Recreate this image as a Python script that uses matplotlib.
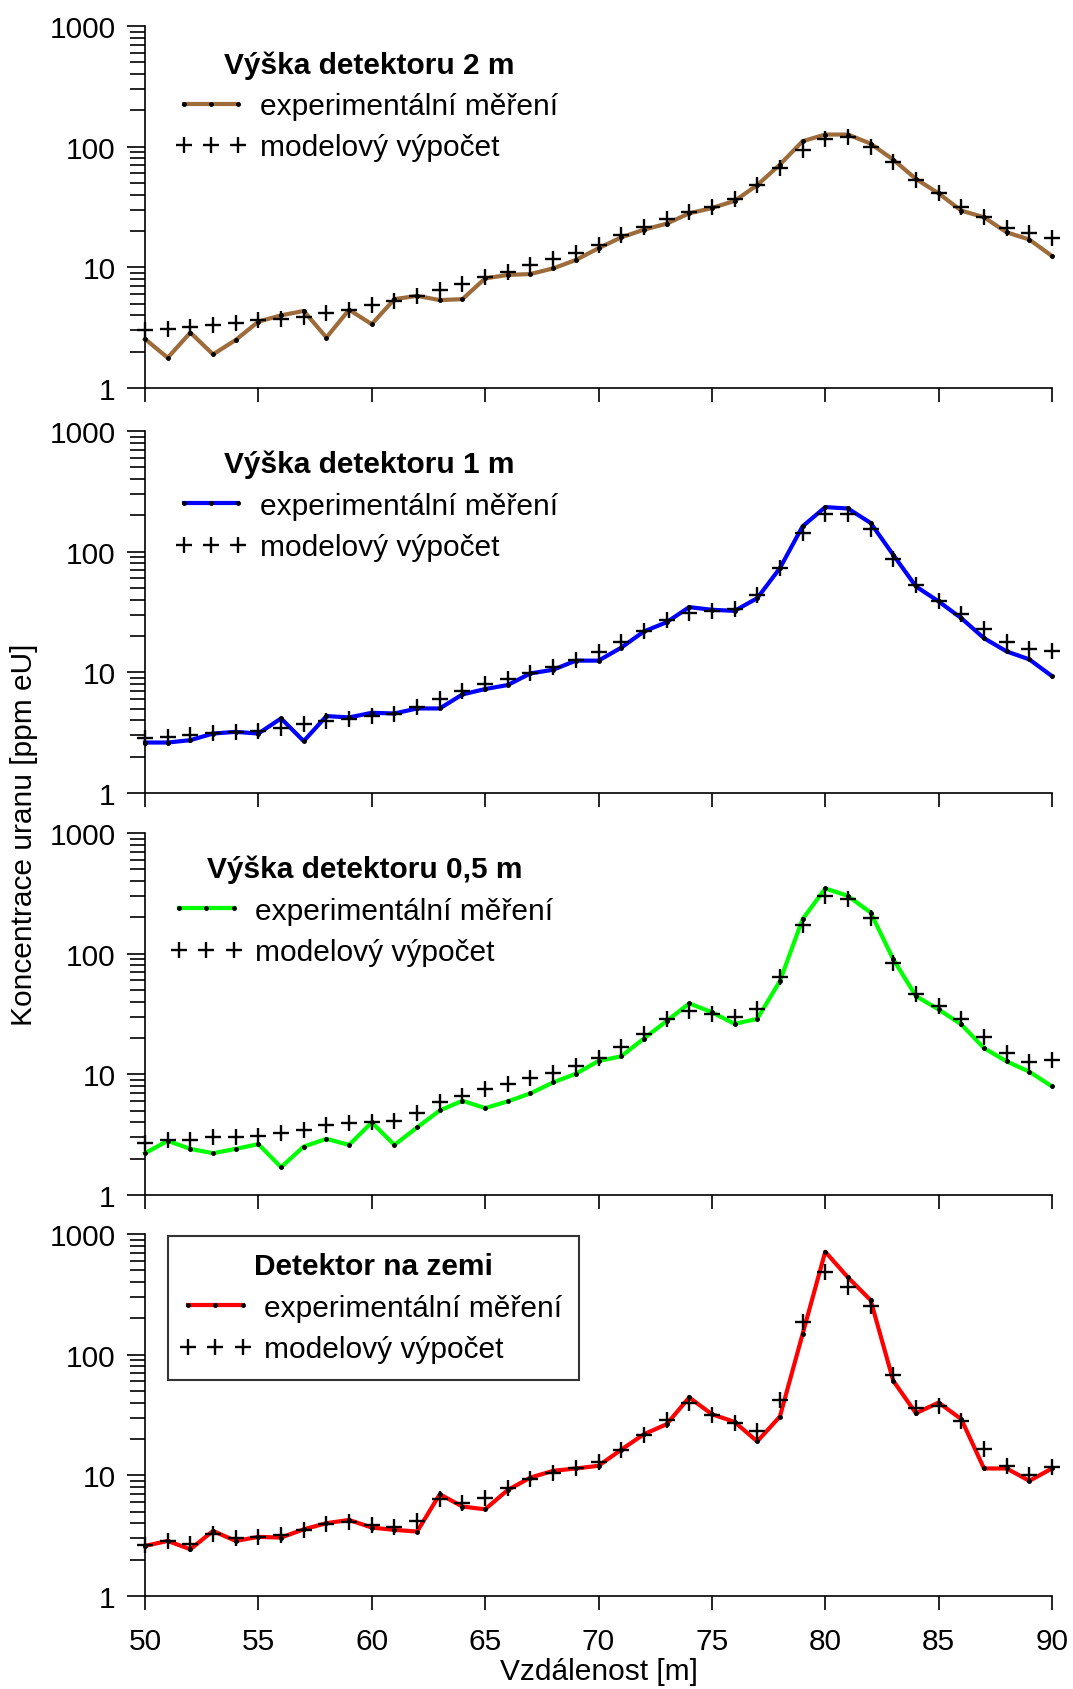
import numpy as np
import matplotlib
matplotlib.use('Agg')
import matplotlib.pyplot as plt
from matplotlib.lines import Line2D
from matplotlib.legend_handler import HandlerLine2D
from matplotlib.ticker import LogLocator, FixedLocator, NullFormatter

plt.rcParams['font.family'] = ['Liberation Sans', 'DejaVu Sans']

# Distance along the profile [m]
dist = list(range(50, 91))

# Uranium concentration [ppm eU] - measured (exp) and modelled (mod)
exp_2m = [2.55, 1.78, 2.88, 1.9, 2.5, 3.55, 4.0, 4.35, 2.62, 4.45, 3.38, 5.45, 5.8, 5.35,
          5.45, 8.1, 8.65, 8.8, 9.8, 11.5, 14.4, 17.7, 20.5, 23.0, 28.0, 31.0, 35.5, 48.0,
          71.0, 111.0, 126.0, 126.0, 106.0, 78.0, 54.0, 41.0, 29.5, 26.0, 19.5, 17.0, 12.4]
mod_2m = [3.0, 3.1, 3.2, 3.3, 3.45, 3.65, 3.75, 3.9, 4.2, 4.45, 4.85, 5.25, 5.8, 6.5, 7.3,
          8.3, 9.15, 10.4, 11.7, 13.2, 15.2, 18.4, 21.6, 25.3, 28.7, 31.6, 37.0, 47.8, 66.5,
          94.0, 116.0, 120.0, 100.0, 74.0, 53.0, 41.0, 31.6, 26.0, 21.2, 19.3, 17.6]

exp_1m = [2.62, 2.62, 2.74, 3.11, 3.21, 3.11, 4.15, 2.69, 4.34, 4.23, 4.62, 4.56, 5.02,
          5.02, 6.56, 7.27, 7.85, 9.8, 10.5, 12.5, 12.5, 16.0, 21.8, 26.0, 34.7, 33.0, 32.3,
          41.2, 73.0, 162.0, 234.0, 228.0, 173.0, 94.0, 51.5, 38.7, 28.1, 19.2, 14.9, 12.8, 9.3]
mod_1m = [2.83, 2.92, 3.01, 3.17, 3.2, 3.27, 3.47, 3.7, 3.94, 4.1, 4.34, 4.5, 5.18, 6.0,
          7.04, 8.0, 8.8, 9.8, 11.1, 12.7, 14.8, 18.0, 21.8, 27.2, 31.0, 32.3, 33.6, 43.4,
          73.0, 143.0, 206.0, 207.0, 155.0, 87.5, 53.0, 38.7, 30.3, 22.9, 18.0, 15.5, 15.0]

exp_05m = [2.22, 2.81, 2.41, 2.22, 2.41, 2.64, 1.7, 2.52, 2.92, 2.6, 3.99, 2.6, 3.63, 5.02,
           6.04, 5.25, 5.97, 6.95, 8.58, 10.1, 12.9, 14.1, 19.8, 27.6, 38.7, 32.7, 26.2,
           28.8, 59.3, 193.0, 347.0, 301.0, 219.0, 89.7, 44.5, 34.5, 25.9, 16.5, 12.8, 10.5, 7.95]
mod_05m = [2.69, 2.83, 2.86, 3.05, 3.05, 3.09, 3.25, 3.47, 3.82, 3.94, 3.99, 4.12, 4.77,
           5.89, 6.65, 7.6, 8.36, 9.3, 10.3, 11.7, 13.7, 16.8, 21.6, 28.5, 33.8, 31.9, 29.8,
           34.5, 64.0, 173.0, 301.0, 283.0, 199.0, 84.0, 45.9, 36.7, 28.8, 20.3, 15.0, 12.6, 13.2]

exp_0m = [2.6, 2.86, 2.44, 3.46, 2.86, 3.09, 3.05, 3.57, 4.01, 4.27, 3.69, 3.53, 3.42, 6.97,
          5.51, 5.23, 7.57, 9.58, 10.9, 11.4, 12.0, 16.3, 21.9, 26.5, 44.2, 32.1, 27.7, 19.1,
          30.7, 148.0, 713.0, 437.0, 283.0, 60.7, 32.7, 40.1, 29.2, 11.4, 11.4, 9.0, 11.4]
mod_0m = [2.63, 2.86, 2.68, 3.29, 3.05, 3.09, 3.19, 3.5, 3.93, 4.11, 3.86, 3.73, 4.19, 6.42,
          5.94, 6.46, 7.92, 9.28, 10.4, 11.4, 13.0, 16.3, 21.5, 28.8, 40.1, 31.5, 27.0, 23.4,
          42.2, 187.0, 481.0, 361.0, 251.0, 67.6, 35.8, 37.2, 28.3, 16.5, 12.0, 10.0, 11.8]

titles = ['Výška detektoru 2 m', 'Výška detektoru 1 m', 'Výška detektoru 0,5 m',
          'Detektor na zemi']
colors = ['#9E6B3B', '#0000FF', '#00FF00', '#FF0000']
exps = [exp_2m, exp_1m, exp_05m, exp_0m]
mods = [mod_2m, mod_1m, mod_05m, mod_0m]

FS = 21.5
W, H = 1073, 1690
fig = plt.figure(figsize=(W / 100, H / 100), dpi=100)

left = 145 / W
width = (1052 - 145) / W
bottoms = [389, 794, 1196, 1597]
height = 362 / H
leg_x = [0.0205, 0.0205, 0.0155, 0.0254]
leg_y = [0.979, 0.993, 0.985, 0.9945]

# legend markers sit near both ends and the middle of the handle
handlers = {Line2D: HandlerLine2D(marker_pad=0.12)}

for i in range(4):
    ax = fig.add_axes([left, 1 - bottoms[i] / H, width, height])
    ax.plot(dist, exps[i], color=colors[i], lw=3, marker='o', ms=2.5,
            mfc='k', mec='k', clip_on=False, zorder=3, label='experimentální měření')
    ax.plot(dist, mods[i], ls='none', marker='+', ms=12, mew=1.7, color='k',
            clip_on=False, zorder=4, label='modelový výpočet')
    ax.set_yscale('log')
    ax.set_xlim(50, 90)
    ax.set_ylim(1, 1000)
    for s in ['top', 'right']:
        ax.spines[s].set_visible(False)
    for s in ['left', 'bottom']:
        ax.spines[s].set_linewidth(1.2)
    ax.yaxis.set_major_locator(FixedLocator([1, 10, 100, 1000]))
    ax.set_yticklabels(['1', '10', '100', '1000'])
    ax.yaxis.set_minor_locator(LogLocator(base=10, subs=np.arange(2, 10)))
    ax.yaxis.set_minor_formatter(NullFormatter())
    ax.xaxis.set_major_locator(FixedLocator(range(50, 91, 5)))
    ax.tick_params(axis='y', which='major', direction='out', length=13, width=1.2,
                   pad=8, labelsize=FS)
    ax.tick_params(axis='y', which='minor', direction='out', length=11, width=1.2)
    ax.tick_params(axis='x', which='major', direction='out', length=10, width=1.2,
                   pad=12, labelsize=FS)
    if i < 3:
        ax.set_xticklabels([])
    else:
        ax.set_xlabel('Vzdálenost [m]', fontsize=FS, labelpad=2)

    leg = ax.legend(loc='upper left', bbox_to_anchor=(leg_x[i], leg_y[i]), fontsize=FS,
                    title=titles[i], title_fontproperties={'weight': 'bold', 'size': FS},
                    numpoints=3, handlelength=2.07, handletextpad=0.6, labelspacing=0.45,
                    borderaxespad=0.0, borderpad=0.55, frameon=(i == 3), fancybox=False,
                    handler_map=handlers)
    if i == 3:
        leg.get_frame().set_edgecolor('k')
        leg.get_frame().set_linewidth(1.5)

fig.text(24 / W, 1 - 835 / H, 'Koncentrace uranu [ppm eU]', rotation=90,
         ha='center', va='center', fontsize=FS)

fig.savefig('out.png', dpi=100)
